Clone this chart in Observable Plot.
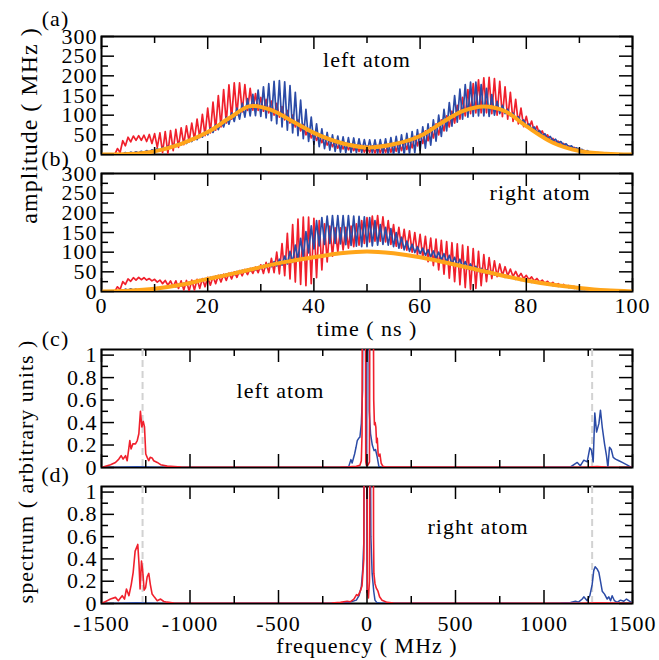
<!DOCTYPE html>
<html><head><meta charset="utf-8">
<script src="https://cdn.jsdelivr.net/npm/d3@7"></script>
<script src="https://cdn.jsdelivr.net/npm/@observablehq/plot@0.6"></script>
<style>
body{margin:0;background:#fff;}
#wrap{position:relative;width:659px;height:660px;overflow:hidden;background:#fff;}
#wrap svg{position:absolute;left:0;top:0;}
</style></head><body><div id="wrap"></div>
<script>
// ---------- data: time panels (value of each oscillation max / min, one per ns) ----------
const timeNs = d3.range(0, 101);
const redAHi = [0,0,1,15,35,44,47,48,49,51, 53,55,58,61,64,68,73,80,90,102, 118,133,150,165,177,182,182,178,168,155,
 145,140,136,130,122,112,100,88,76,66, 58,50,44,38,34,30,28,26,24,23, 22,22,23,24,26,28,31,35,40,46,
 52,60,68,78,88,98,110,125,145,165, 180,190,195,196,193,186,172,158,140,118, 97,85,72,60,50,41,34,28,22,18,
 14,10,7,5,3,2,1,0,0,0,0];
const redALo = [0,0,0,5,22,32,36,36,33,28, 18,5,3,10,18,25,32,38,43,48, 55,62,70,80,90,100,108,112,113,112,
 110,106,100,95,88,80,70,60,50,42, 36,30,24,20,16,14,12,10,8,6, 5,4,4,5,6,8,10,13,17,22,
 28,35,42,50,60,70,80,90,98,104, 106,106,106,104,100,96,90,84,78,71, 66,58,50,42,36,30,24,19,15,11,
 8,5,3,2,1,1,0,0,0,0,0];
const blueAHi = [0,0,0,2,5,6,7,8,10,12, 15,18,21,25,29,34,39,45,52,59, 68,76,85,95,106,118,130,142,153,164,
 172,180,186,188,185,175,158,138,115,95, 78,65,56,50,47,45,43,42,40,38, 37,37,38,40,43,46,50,54,58,63,
 70,78,88,100,115,132,150,166,178,184, 184,178,168,152,135,125,115,105,96,88, 78,70,61,53,46,39,33,27,22,17,
 13,10,7,5,3,2,1,0,0,0,0];
const blueALo = [0,0,0,0,1,2,3,4,5,6, 8,10,13,16,20,24,28,33,38,44, 50,56,63,70,77,84,90,95,98,99,
 97,93,86,78,70,62,55,48,40,33, 26,20,15,11,8,6,5,5,5,5, 5,4,3,2,1,0,0,0,2,5,
 10,16,24,34,46,60,72,82,90,95, 97,98,98,97,100,104,104,98,90,82, 72,64,56,48,41,35,29,24,19,15,
 11,8,5,3,2,1,0,0,0,0,0];
const redBHi = [0,0,0,12,25,32,35,36,35,33, 31,29,28,27,27,27,28,29,31,33, 36,38,41,44,47,50,53,56,59,62,
 68,74,84,100,122,148,170,184,189,189, 186,180,172,166,162,162,163,166,172,180, 188,192,193,190,180,170,163,158,154,150,
 145,140,136,133,130,127,124,121,118,114, 109,102,94,86,78,70,63,57,51,46, 41,37,33,29,26,23,20,18,15,13,
 11,9,7,5,4,3,2,1,0,0,0];
const redBLo = [0,0,0,5,18,26,29,30,29,27, 24,20,16,12,8,4,1,4,8,12, 16,20,24,28,32,36,40,43,46,48,
 46,48,48,45,40,32,24,18,15,20, 35,55,75,90,100,106,110,114,118,122, 126,128,128,126,120,115,110,105,100,94,
 86,76,66,55,44,34,25,17,10,6, 8,15,25,33,38,40,40,38,36,33, 30,27,24,21,18,16,14,12,10,8,
 7,5,4,3,2,1,1,0,0,0,0];
const blueBHi = [0,0,0,3,6,7,6,5,5,5, 10,12,14,16,18,21,24,27,30,33, 36,39,42,45,48,51,54,57,60,63,
 67,71,76,82,90,102,118,135,152,167, 180,188,192,193,193,193,193,192,191,190, 188,180,170,163,160,150,138,128,120,114,
 110,106,103,100,96,92,87,82,76,70, 64,59,55,51,47,44,41,38,35,32, 29,27,24,22,20,18,16,14,12,10,
 9,7,5,4,3,2,1,1,0,0,0];
const blueBLo = [0,0,0,0,2,3,3,2,2,3, 5,7,9,11,12,14,17,20,23,26, 29,32,35,38,41,43,46,49,52,55,
 58,61,63,65,67,70,74,80,88,98, 108,116,120,122,122,121,119,117,115,114, 114,116,118,120,118,114,110,106,102,99,
 96,92,88,84,80,75,70,66,62,58, 54,51,48,45,42,39,36,34,31,28, 26,23,21,19,17,15,13,11,10,8,
 7,5,4,3,2,1,1,0,0,0,0];
// smooth envelopes (orange)
const orangeATime = [0,5,10,15,20,24,28,32,36,40,45,50,55,60,64,68,72,76,80,85,90,95,100];
const orangeAVal  = [0,1,8,27,57,92,123,113,84,55,30,18,26,47,80,110,122,110,72,30,9,2,0];
const orangeBTime = [0,5,10,15,20,25,30,35,40,45,50,55,60,65,70,75,80,85,90,95,100];
const orangeBVal  = [0,2,7,17,32,46,62,76,87,97,102,97,87,73,58,42,28,17,9,3,0];

// ---------- data: spectra [frequency MHz, value] ----------
const redC = [[-1500,0.005],[-1487,0.006],[-1449,0.024],[-1421,0.045],[-1402,0.075],[-1389,0.105],[-1378,0.075],[-1364,0.105],[-1355,0.06],[-1340,0.24],[-1333,0.165],[-1323,0.21],[-1308,0.21],[-1298,0.24],[-1289,0.30],[-1280,0.50],[-1272,0.36],[-1264,0.41],[-1257,0.36],[-1250,0.12],[-1242,0.09],[-1233,0.06],[-1225,0.09],[-1214,0.085],[-1205,0.06],[-1185,0.045],[-1166,0.025],[-1129,0.012],[-1050,0.003],[-900,0.001],
 [-150,0.003],[-100,0.006],[-60,0.01],[-40,0.02],[-32,0.06],[-28,0.3],[-24,3],[-16,3],[-10,3],[-7,0.05],[-3,0.02],[5,0.02],[14,0.05],[18,3],[25,3],[32,3],[38,0.6],[42,0.38],[46,0.4],[50,0.36],[54,0.22],[58,0.26],[63,0.12],[68,0.1],[73,0.12],[80,0.04],[90,0.01],[110,0.003],
 [1100,0.001],[1250,0.004],[1300,0.008],[1350,0.004],[1500,0.001]];
const blueC = [[-1500,0.001],[-1400,0.003],[-1350,0.005],[-1300,0.006],[-1250,0.005],[-1200,0.003],[-1100,0.001],
 [-150,0],[-120,0.005],[-103,0.01],[-91,0.07],[-84,0.04],[-70,0.12],[-62,0.18],[-55,0.24],[-47,0.26],[-40,0.27],[-32,0.39],[-25,0.69],[-20,3],[-12,3],[-6,0.4],[-2,0.02],[2,3],[8,3],[13,0.5],[20,0.3],[30,0.2],[40,0.15],[48,0.16],[57,0.1],[67,0.01],[80,0.003],
 [1000,0],[1037,0.002],[1100,0.003],[1150,0.005],[1188,0.045],[1205,0.015],[1225,0.065],[1244,0.05],[1259,0.175],[1268,0.155],[1278,0.05],[1287,0.486],[1297,0.315],[1310,0.39],[1319,0.51],[1329,0.36],[1342,0.21],[1353,0.105],[1361,0.0],[1370,0.18],[1380,0.16],[1391,0.09],[1404,0.075],[1423,0.06],[1442,0.045],[1466,0.025],[1489,0.006],[1500,0.004]];
const redD = [[-1500,0.005],[-1487,0.01],[-1449,0.04],[-1421,0.055],[-1405,0.025],[-1383,0.07],[-1370,0.04],[-1359,0.13],[-1345,0.07],[-1332,0.17],[-1321,0.28],[-1310,0.47],[-1295,0.53],[-1288,0.35],[-1282,0.13],[-1274,0.38],[-1267,0.29],[-1259,0.12],[-1251,0.14],[-1242,0.24],[-1233,0.27],[-1224,0.17],[-1214,0.085],[-1200,0.055],[-1185,0.025],[-1166,0.04],[-1148,0.018],[-1129,0.012],[-1091,0.004],[-1000,0.001],
 [-200,0.003],[-150,0.01],[-112,0.02],[-95,0.015],[-74,0.04],[-59,0.08],[-50,0.07],[-37,0.115],[-28,0.16],[-18,0.4],[-13,3],[-2,3],[2,0.1],[8,0.05],[14,0.2],[20,3],[35,3],[37,0.6],[39,0.27],[45,0.18],[52,0.14],[62,0.11],[71,0.06],[85,0.03],[114,0.01],[150,0.005],[200,0.002],
 [1200,0.002],[1300,0.006],[1400,0.003],[1500,0.001]];
const blueD = [[-1500,0.001],[-1400,0.003],[-1300,0.006],[-1250,0.004],[-1150,0.001],
 [-200,0.002],[-100,0.01],[-60,0.03],[-45,0.07],[-32,0.15],[-24,0.31],[-18,0.55],[-14,3],[-4,3],[0,0.1],[6,3],[14,3],[22,0.6],[29,0.27],[38,0.11],[45,0.03],[55,0.01],[80,0.003],
 [1000,0.001],[1093,0.005],[1150,0.01],[1178,0.02],[1195,0.012],[1216,0.04],[1225,0.06],[1244,0.025],[1259,0.07],[1272,0.17],[1281,0.295],[1289,0.33],[1300,0.31],[1310,0.28],[1319,0.2],[1329,0.11],[1342,0.084],[1357,0.04],[1366,0.06],[1376,0.025],[1385,0.07],[1398,0.025],[1413,0.01],[1432,0.03],[1451,0.02],[1466,0.04],[1479,0.025],[1493,0.01],[1500,0.01]];
const sidebandLines = [-1268, 1272];

// ---------- ticks ----------
const timeMajor = [0,20,40,60,80,100], timeMinor = [10,30,50,70,90];
const ampMajor = [0,50,100,150,200,250,300], ampMinor = [25,75,125,175,225,275];
const freqMajor = [-1500,-1000,-500,0,500,1000,1500], freqMinor = [-1250,-750,-250,250,750,1250];
const specMajor = [0,0.2,0.4,0.6,0.8,1], specMinor = [0.1,0.3,0.5,0.7,0.9];

// ---------- drawing ----------
const W = 659, H = 660, ML = 101, MR = 27;
const FONT = "Liberation Serif";
const RED = "#f0202c", BLUE = "#2b4ba6", ORANGE = "#ffa51a";

function zig(hi, lo, phase) {
  const out = [];
  for (let i = 0; i < timeNs.length; i++) {
    const a = phase ? lo[i] : hi[i], b = phase ? hi[i] : lo[i];
    out.push({t: timeNs[i], v: a});
    if (i < timeNs.length - 1) out.push({t: timeNs[i] + 0.5, v: b});
  }
  return out;
}
const pairs = arr => arr.map(([f, v]) => ({f, v}));
const zipT = (ts, vs) => ts.map((t, i) => ({t, v: vs[i]}));

function panel(o) {
  const h = o.bottom - o.top, w = W - ML - MR;
  const marks = [Plot.frame({stroke: "black", strokeWidth: 2})];
  if (o.rules) marks.push(Plot.ruleX(o.rules, {x: d => d, stroke: "#d2d2d2", strokeWidth: 2, strokeDasharray: "7,4"}));
  marks.push(...o.marks);
  const tx = (arr, len) => [
    Plot.tickX(arr, {x: d => d, insetTop: h - len, stroke: "black", strokeWidth: 1.5}),
    Plot.tickX(arr, {x: d => d, insetBottom: h - len, stroke: "black", strokeWidth: 1.5})];
  const ty = (arr, len) => [
    Plot.tickY(arr, {y: d => d, insetRight: w - len, stroke: "black", strokeWidth: 1.5}),
    Plot.tickY(arr, {y: d => d, insetLeft: w - len, stroke: "black", strokeWidth: 1.5})];
  marks.push(...tx(o.xMajor, 13), ...tx(o.xMinor, 7), ...ty(o.yMajor, 13), ...ty(o.yMinor, 7));
  marks.push(Plot.text(o.yMajor, {y: d => d, text: d => String(d), frameAnchor: "left", textAnchor: "end", lineAnchor: "middle", dx: -4, fontSize: 22, fontFamily: FONT}));
  if (o.xLabels) marks.push(Plot.text(o.xMajor, {x: d => d, text: d => String(d), frameAnchor: "bottom", textAnchor: "middle", lineAnchor: "middle", dy: o.xLabelDy, fontSize: 22, fontFamily: FONT}));
  marks.push(Plot.text([o.tag], {frameAnchor: "top-left", dx: -46, dy: o.tagDy, textAnchor: "middle", lineAnchor: "middle", fontSize: 22, fontFamily: FONT}));
  marks.push(Plot.text([o.note.text], {x: o.note.x, y: o.note.y, textAnchor: "middle", lineAnchor: "middle", fontSize: 22, fontFamily: FONT}));
  if (o.extra) marks.push(...o.extra);
  return Plot.plot({
    width: W, height: H, marginLeft: ML, marginRight: MR, marginTop: o.top, marginBottom: H - o.bottom,
    x: {domain: o.xDomain, axis: null}, y: {domain: o.yDomain, axis: null},
    style: {background: "transparent", overflow: "visible", fontFamily: FONT, letterSpacing: "1px", color: "black"},
    marks
  });
}

const timeMarks = (rh, rl, bh, bl, oT, oV) => [
  Plot.line(zig(rh, rl, 0), {x: "t", y: "v", stroke: RED, strokeWidth: 1.7, clip: true}),
  Plot.line(zig(bh, bl, 1), {x: "t", y: "v", stroke: BLUE, strokeWidth: 1.7, clip: true}),
  Plot.line(zipT(oT, oV), {x: "t", y: "v", stroke: ORANGE, strokeWidth: 4, curve: "catmull-rom", clip: true})
];
const specMarks = (red, blue) => [
  Plot.line(pairs(blue), {x: "f", y: "v", stroke: BLUE, strokeWidth: 1.5, clip: true}),
  Plot.line(pairs(red), {x: "f", y: "v", stroke: RED, strokeWidth: 1.6, clip: true})
];

const wrap = document.getElementById("wrap");
wrap.append(panel({
  top: 36, bottom: 154, xDomain: [0, 100], yDomain: [0, 300],
  xMajor: timeMajor, xMinor: timeMinor, yMajor: ampMajor, yMinor: ampMinor,
  tag: "(a)", tagDy: -18, note: {text: "left atom", x: 50, y: 240},
  marks: timeMarks(redAHi, redALo, blueAHi, blueALo, orangeATime, orangeAVal),
  extra: [Plot.text(["amplitude ( MHz )"], {frameAnchor: "top-left", dx: -72, dy: 89, rotate: -90, textAnchor: "middle", lineAnchor: "middle", fontSize: 24, fontFamily: FONT})]
}));
wrap.append(panel({
  top: 173, bottom: 291, xDomain: [0, 100], yDomain: [0, 300],
  xMajor: timeMajor, xMinor: timeMinor, yMajor: ampMajor, yMinor: ampMinor,
  xLabels: true, xLabelDy: 14,
  tag: "(b)", tagDy: -15, note: {text: "right atom", x: 82.6, y: 251},
  marks: timeMarks(redBHi, redBLo, blueBHi, blueBLo, orangeBTime, orangeBVal),
  extra: [Plot.text(["time ( ns )"], {frameAnchor: "bottom", dy: 37, textAnchor: "middle", lineAnchor: "middle", fontSize: 22, fontFamily: FONT})]
}));
wrap.append(panel({
  top: 349, bottom: 467, xDomain: [-1500, 1500], yDomain: [0, 1.05],
  xMajor: freqMajor, xMinor: freqMinor, yMajor: specMajor, yMinor: specMinor,
  rules: sidebandLines,
  tag: "(c)", tagDy: -11, note: {text: "left atom", x: -489, y: 0.685},
  marks: specMarks(redC, blueC),
  extra: [Plot.text(["spectrum ( arbitrary units )"], {frameAnchor: "top-left", dx: -76, dy: 122, rotate: -90, textAnchor: "middle", lineAnchor: "middle", fontSize: 22, fontFamily: FONT})]
}));
wrap.append(panel({
  top: 486, bottom: 603, xDomain: [-1500, 1500], yDomain: [0, 1.05],
  xMajor: freqMajor, xMinor: freqMinor, yMajor: specMajor, yMinor: specMinor,
  rules: sidebandLines, xLabels: true, xLabelDy: 20,
  tag: "(d)", tagDy: -12, note: {text: "right atom", x: 627, y: 0.69},
  marks: specMarks(redD, blueD),
  extra: [Plot.text(["frequency ( MHz )"], {frameAnchor: "bottom", dy: 42, textAnchor: "middle", lineAnchor: "middle", fontSize: 22, fontFamily: FONT})]
}));
</script></body></html>
